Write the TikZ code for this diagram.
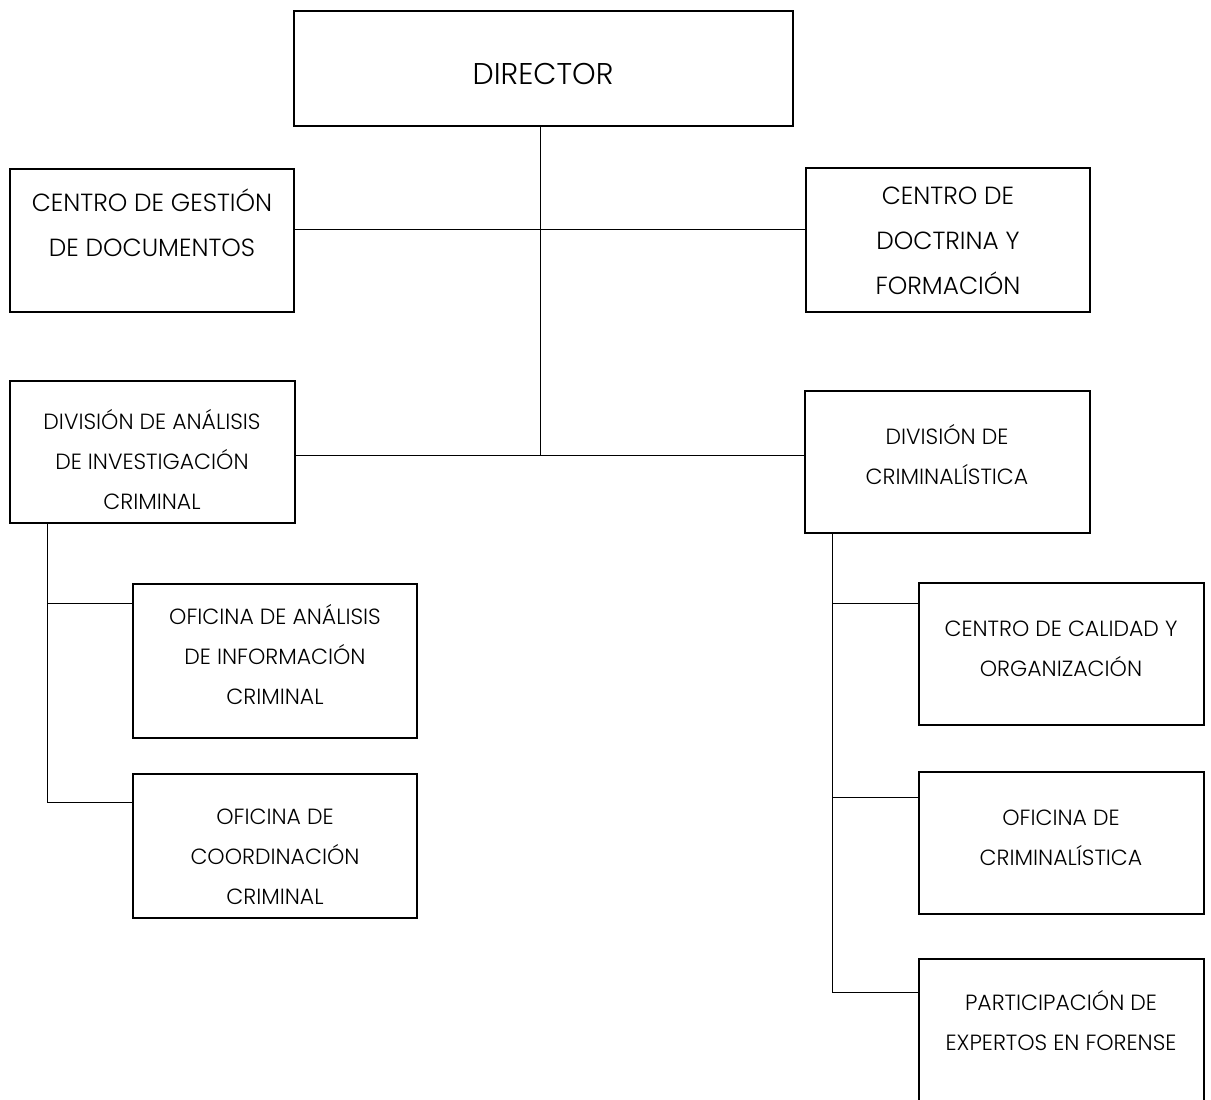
\documentclass[tikz,border=0pt]{standalone}
\usepackage{fontspec}
\setmainfont{Poppins}[UprightFont=* Light]
\begin{document}
\begin{tikzpicture}[x=1pt,y=-1pt,
  box/.style={draw=black,line width=1.8pt,rectangle,inner sep=0pt,fill=none},
  conn/.style={draw=black,line width=1pt},
  big/.style={font=\fontsize{24.8}{45}\selectfont,align=center,inner sep=0pt},
  small/.style={font=\fontsize{22}{40}\selectfont,align=center,inner sep=0pt},
  huge/.style={font=\fontsize{30}{34}\selectfont,inner sep=0pt}]
\clip (0,0) rectangle (1211,1100);
\fill[white] (0,0) rectangle (1211,1100);
% boxes
\node[box,minimum width=499pt,minimum height=115pt] (dir) at (543.5,68.5) {};
\node[box,minimum width=284pt,minimum height=143pt] (gest) at (152,240.5) {};
\node[box,minimum width=284pt,minimum height=144pt] (doct) at (948,240) {};
\node[box,minimum width=285pt,minimum height=142pt] (divA) at (152.5,452) {};
\node[box,minimum width=285pt,minimum height=142pt] (divC) at (947.5,462) {};
\node[box,minimum width=284pt,minimum height=154pt] (ofA) at (275,661) {};
\node[box,minimum width=284pt,minimum height=144pt] (ofC) at (275,846) {};
\node[box,minimum width=285pt,minimum height=142pt] (cal) at (1061.5,654) {};
\node[box,minimum width=285pt,minimum height=142pt] (ofK) at (1061.5,843) {};
\node[box,minimum width=285pt,minimum height=170pt] (part) at (1061.5,1044) {};
% texts
\node[huge] (tdir) at (543,74) {DIRECTOR};
\node[big] (tgest) at (152,225) {\strut CENTRO DE GESTIÓN\\\strut DE DOCUMENTOS};
\node[big] (tdoct) at (948,240) {\strut CENTRO DE\\\strut DOCTRINA Y\\\strut FORMACIÓN};
\node[small] (tdivA) at (152,461.5) {\strut DIVISIÓN DE ANÁLISIS\\\strut DE INVESTIGACIÓN\\\strut CRIMINAL};
\node[small] (tdivC) at (947,456) {\strut DIVISIÓN DE\\\strut CRIMINALÍSTICA};
\node[small] (tofA) at (275,656) {\strut OFICINA DE ANÁLISIS\\\strut DE INFORMACIÓN\\\strut CRIMINAL};
\node[small] (tofC) at (275,856) {\strut OFICINA DE\\\strut COORDINACIÓN\\\strut CRIMINAL};
\node[small] (tcal) at (1061,648) {\strut CENTRO DE CALIDAD Y\\\strut ORGANIZACIÓN};
\node[small] (tofK) at (1061,837) {\strut OFICINA DE\\\strut CRIMINALÍSTICA};
\node[small] (tpart) at (1061,1022) {\strut PARTICIPACIÓN DE\\\strut EXPERTOS EN FORENSE};
% connector coordinates
\coordinate (jbot) at (540,456);
\coordinate (h1) at (540,229);
\coordinate (h2) at (540,455);
\coordinate (lbot) at (47,803);
\coordinate (lb1) at (47,603);
\coordinate (lb2) at (47,802);
\coordinate (rbot) at (832,992);
\coordinate (rb1) at (832,603);
\coordinate (rb2) at (832,797);
\coordinate (rb3) at (832,992);
% connectors
\draw[conn] (dir.south -| jbot) -- (jbot);
\draw[conn] (gest.east |- h1) -- (doct.west |- h1);
\draw[conn] (divA.east |- h2) -- (divC.west |- h2);
\draw[conn] (divA.south -| lbot) -- (lbot);
\draw[conn] (lb1) -- (lb1 -| ofA.west);
\draw[conn] (lb2) -- (lb2 -| ofC.west);
\draw[conn] (divC.south -| rbot) -- (rbot);
\draw[conn] (rb1) -- (rb1 -| cal.west);
\draw[conn] (rb2) -- (rb2 -| ofK.west);
\draw[conn] (rb3) -- (rb3 -| part.west);
\end{tikzpicture}
\end{document}
